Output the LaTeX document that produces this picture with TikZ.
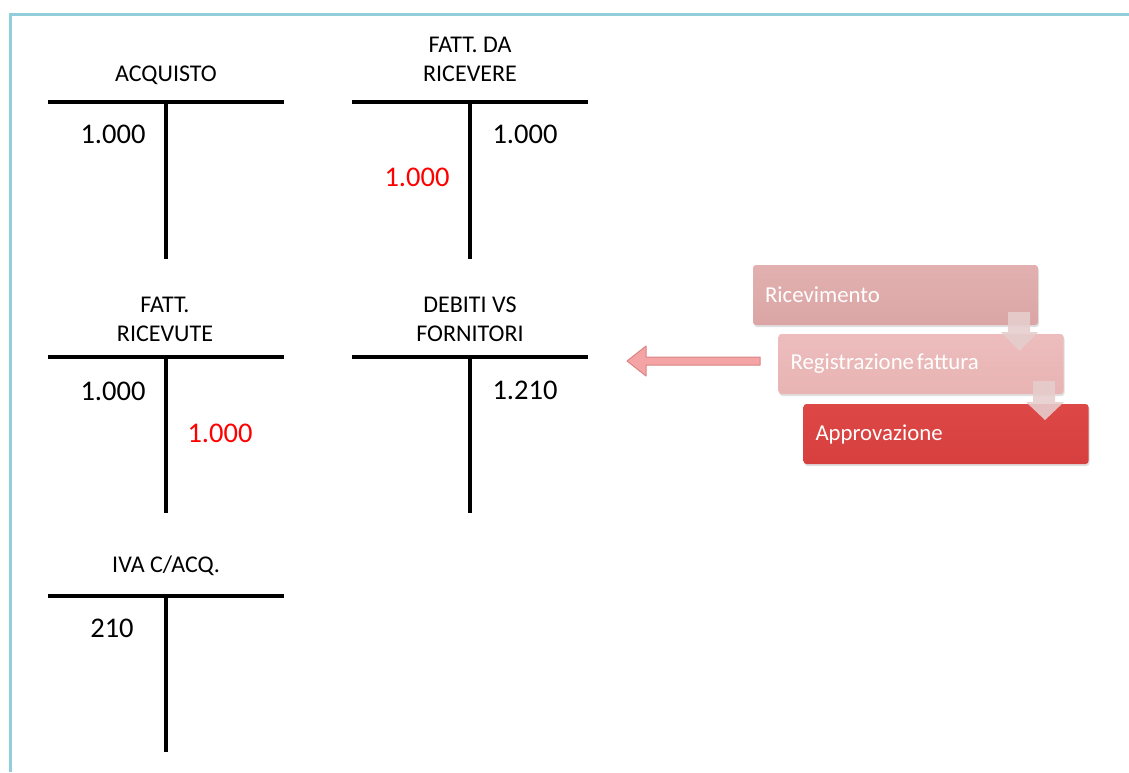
\documentclass[tikz,border=0pt]{standalone}
\usepackage{fontspec}
\setmainfont{Carlito}
\usetikzlibrary{shadows,calc}
\definecolor{frameblue}{HTML}{92CDDC}
\definecolor{redtxt}{HTML}{FF0000}
\definecolor{boxA}{HTML}{DBA5A5}
\definecolor{boxAtop}{HTML}{E2B0B0}
\definecolor{boxB}{HTML}{E8B3B3}
\definecolor{boxBtop}{HTML}{EDBDBD}
\definecolor{boxC}{HTML}{D63F3D}
\definecolor{boxCtop}{HTML}{DD4846}
\definecolor{downfill}{HTML}{E6CDCD}
\definecolor{leftfill}{HTML}{F4A4A4}
\definecolor{leftdraw}{HTML}{D98585}
\begin{document}
\begin{tikzpicture}[x=1pt,y=-1pt,
  tline/.style={line width=4pt},
  title/.style={inner sep=0pt, anchor=south, text depth=0pt, align=center,
    font=\fontsize{24}{29}\selectfont},
  amount/.style={inner sep=0pt, anchor=base, font=\fontsize{28.5}{30}\selectfont},
  redamount/.style={amount, text=redtxt},
  stepbox/.style={rectangle, rounded corners=3pt, minimum height=60pt,
    minimum width=285pt, text width=261pt, inner xsep=12pt, align=left,
    text=white, font=\fontsize{22.8}{24}\selectfont,
    drop shadow={opacity=0.25, shadow xshift=1pt, shadow yshift=-2pt}},
  downarrow/.style={fill=downfill, fill opacity=0.9, draw=none},
]
\useasboundingbox (0,0) rectangle (1129,772);

% page frame
\draw[frameblue, line width=3pt] (10,772) -- (10,14) -- (1129,14);

% ---- ACQUISTO ----
\coordinate (aL) at (48,102); \coordinate (aR) at (284,102);
\coordinate (aT) at (166,102); \coordinate (aB) at (166,259);
\draw[tline] (aL) -- (aR); \draw[tline] (aT) -- (aB);
\node[title] (aTitle) at (166,82) {ACQUISTO};
\node[amount] (aDare) at (113,143) {1.000};

% ---- FATT. DA RICEVERE ----
\coordinate (fL) at (352,102); \coordinate (fR) at (588,102);
\coordinate (fT) at (470,102); \coordinate (fB) at (470,259);
\draw[tline] (fL) -- (fR); \draw[tline] (fT) -- (fB);
\node[title] (fTitle) at (470,82) {FATT. DA\\RICEVERE};
\node[amount] (fAvere) at (525,143) {1.000};
\node[redamount] (fDare) at (417,186) {1.000};

% ---- FATT. RICEVUTE ----
\coordinate (rL) at (48,357); \coordinate (rR) at (284,357);
\coordinate (rT) at (166,357); \coordinate (rB) at (166,513);
\draw[tline] (rL) -- (rR); \draw[tline] (rT) -- (rB);
\node[title] (rTitle) at (165,342) {FATT.\\RICEVUTE};
\node[amount] (rDare) at (113,400) {1.000};
\node[redamount] (rAvere) at (220,442) {1.000};

% ---- DEBITI VS FORNITORI ----
\coordinate (dL) at (352,357); \coordinate (dR) at (588,357);
\coordinate (dT) at (470,357); \coordinate (dB) at (470,513);
\draw[tline] (dL) -- (dR); \draw[tline] (dT) -- (dB);
\node[title] (dTitle) at (470,342) {DEBITI VS\\FORNITORI};
\node[amount] (dAvere) at (525,399) {1.210};

% ---- IVA C/ACQ. ----
\coordinate (iL) at (48,596); \coordinate (iR) at (284,596);
\coordinate (iT) at (166,596); \coordinate (iB) at (166,752);
\draw[tline] (iL) -- (iR); \draw[tline] (iT) -- (iB);
\node[title] (iTitle) at (166,573) {IVA C/ACQ.};
\node[amount] (iDare) at (112,637) {210};

% ---- process steps ----
\node[stepbox, top color=boxAtop, bottom color=boxA] (rcv) at (895.5,295) {Ricevimento};
\node[stepbox, top color=boxBtop, bottom color=boxB] (reg) at (921,364)
  {{\spaceskip=0.12em Registrazione fattura}};
\fill[downarrow] (1008,312) -- (1030,312) -- (1030,332) -- (1038,332)
  -- (1019.5,351) -- (1001,332) -- (1008,332) -- cycle;
\node[stepbox, top color=boxCtop, bottom color=boxC] (apr) at (946,434) {Approvazione};
\fill[downarrow] (1033,381) -- (1055,381) -- (1055,402) -- (1064,402)
  -- (1045,420) -- (1026,402) -- (1033,402) -- cycle;

% arrow from the registration step towards the ledger
\coordinate (arrStart) at (760,361);
\coordinate (arrTip) at (627,361);
\filldraw[fill=leftfill, draw=leftdraw, line width=1pt, line join=round]
  ($(arrStart)+(0,-4)$) -- (646,357) -- (646,346) -- (arrTip) -- (646,376)
  -- (646,365) -- ($(arrStart)+(0,4)$) -- cycle;
\end{tikzpicture}
\end{document}
